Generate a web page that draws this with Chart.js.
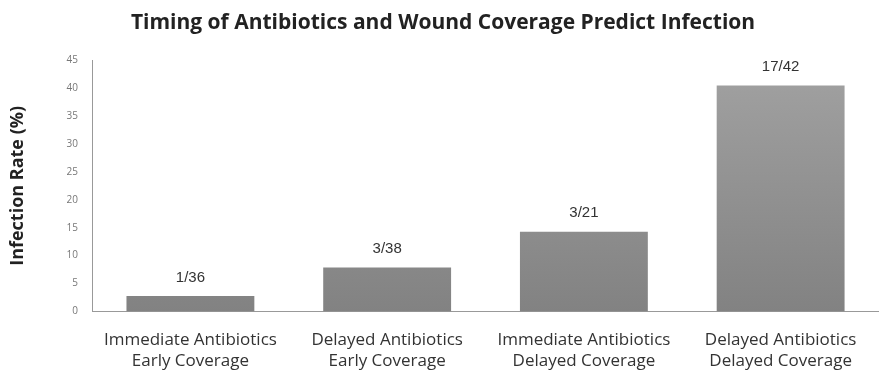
<!DOCTYPE html>
<html>
<head>
<meta charset="utf-8">
<script src="https://cdn.jsdelivr.net/npm/chart.js@4/dist/chart.umd.min.js"></script>
<style>
  html, body { margin: 0; padding: 0; background: #fff; }
  #wrap { width: 879px; height: 371px; }
</style>
</head>
<body>
<div id="wrap"><canvas id="infection-chart"></canvas></div>
<script>
// infected / total per group
const groups = [
    ['Immediate Antibiotics', 'Early Coverage'],
    ['Delayed Antibiotics', 'Early Coverage'],
    ['Immediate Antibiotics', 'Delayed Coverage'],
    ['Delayed Antibiotics', 'Delayed Coverage']
];
const infected = [1, 3, 3, 17];
const totals = [36, 38, 21, 42];
const rates = infected.map((n, i) => n / totals[i] * 100);
const countLabels = infected.map((n, i) => n + '/' + totals[i]);
const yTicks = [0, 5, 10, 15, 20, 25, 30, 35, 40, 45];

// grey bars, slightly lighter at the top
function barFill(ctx) {
    const area = ctx.chart.chartArea;
    if (!area) return '#8c8c8c';
    const g = ctx.chart.ctx.createLinearGradient(0, area.top, 0, area.bottom);
    g.addColorStop(0, '#a2a2a2');
    g.addColorStop(1, '#828282');
    return g;
}

// writes the n/total text over each bar
const countLabelPlugin = {
    id: 'countLabels',
    afterDatasetsDraw(chart) {
        const ctx = chart.ctx;
        const meta = chart.getDatasetMeta(0);
        ctx.save();
        ctx.font = '15px "Liberation Sans", Arial, sans-serif';
        ctx.fillStyle = '#333';
        ctx.textAlign = 'center';
        ctx.textBaseline = 'bottom';
        meta.data.forEach((bar, i) => {
            ctx.fillText(countLabels[i], bar.x, bar.y - 11);
        });
        ctx.restore();
    }
};

const canvas = document.getElementById('infection-chart');
new Chart(canvas.getContext('2d'), {
    type: 'bar',
    data: {
        labels: groups,
        datasets: [{
            label: 'Infection Rate',
            data: rates,
            backgroundColor: barFill,
            borderWidth: 0,
            barPercentage: 0.65,
            categoryPercentage: 1.0
        }]
    },
    options: {
        responsive: true,
        maintainAspectRatio: false,
        animation: false,
        // the two-line x labels reserve more room than they use
        layout: { padding: { top: 10, right: 0, bottom: -19, left: 7 } },
        plugins: {
            legend: { display: false },
            tooltip: { enabled: false },
            title: {
                display: true,
                text: 'Timing of Antibiotics and Wound Coverage Predict Infection',
                color: '#222',
                font: { family: '"Open Sans", sans-serif', size: 21, weight: 'bold', lineHeight: 1.2 },
                padding: { top: 0, bottom: 25 }
            }
        },
        scales: {
            x: {
                grid: { display: false, drawTicks: false },
                border: { color: '#999', width: 1 },
                ticks: {
                    color: '#333',
                    padding: 18,
                    maxRotation: 0,
                    font: { family: '"Open Sans", sans-serif', size: 17, lineHeight: 1.25 }
                }
            },
            y: {
                min: 0,
                max: 45,
                afterBuildTicks: axis => { axis.ticks = yTicks.map(v => ({ value: v })); },
                grid: { display: false, drawTicks: false },
                border: { color: '#999', width: 1 },
                ticks: {
                    color: '#777',
                    padding: 14,
                    font: { family: '"Open Sans", sans-serif', size: 10 }
                },
                title: {
                    display: true,
                    text: 'Infection Rate (%)',
                    color: '#222',
                    font: { family: '"Open Sans", sans-serif', size: 18, weight: 'bold', lineHeight: 1.2 },
                    padding: { top: 0, bottom: 24 }
                }
            }
        }
    },
    plugins: [countLabelPlugin]
});
</script>
</body>
</html>
